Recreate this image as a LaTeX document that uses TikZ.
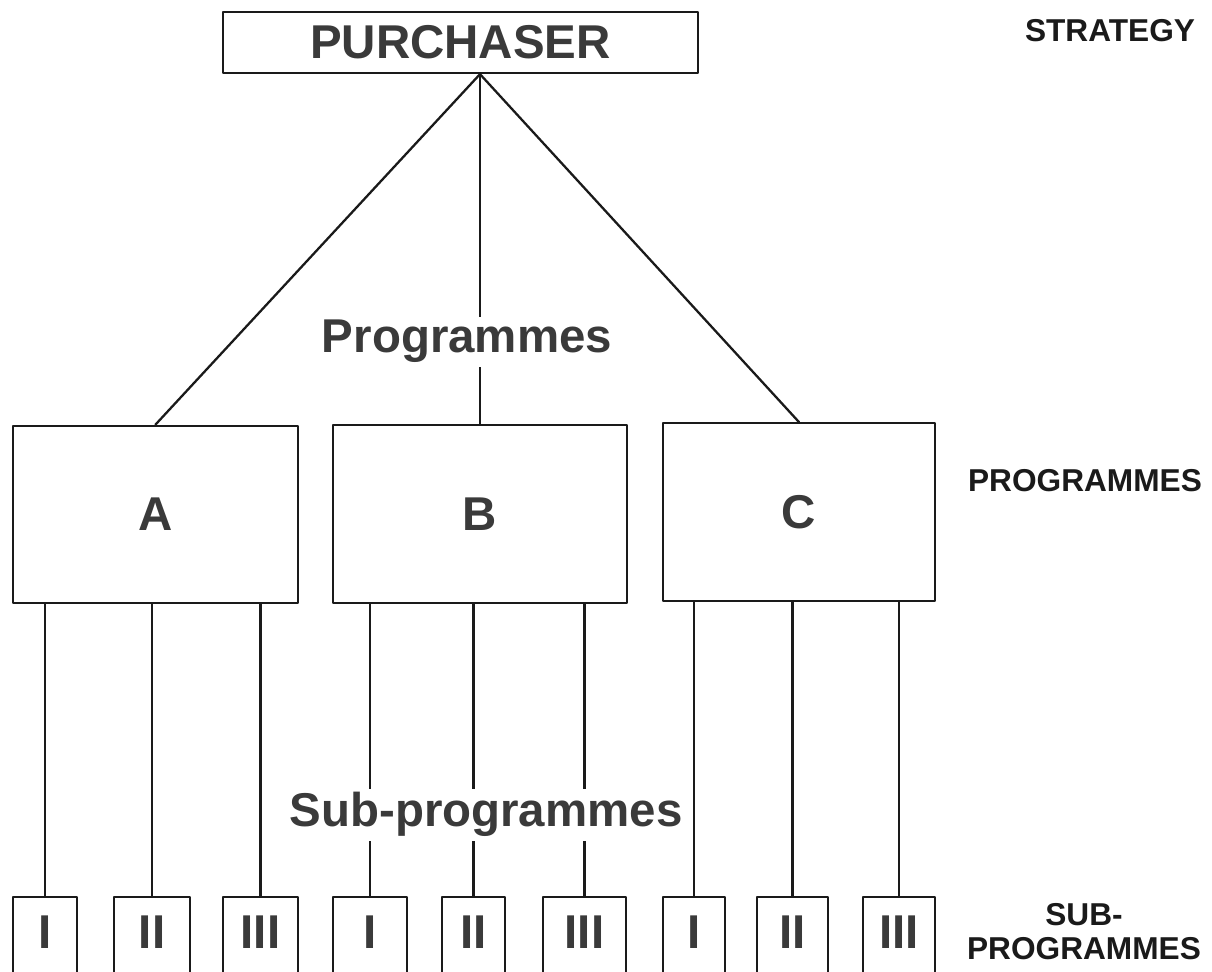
\documentclass[tikz,border=0pt]{standalone}
\usepackage{fontspec}
\setmainfont{Liberation Sans}
\usetikzlibrary{calc}
\definecolor{ink}{HTML}{1A1A1A}
\definecolor{type}{HTML}{3A3A3A}
\tikzset{
  base/.style={draw=ink, line width=1.3pt, line cap=round, line join=round},
  big/.style={text=type, font=\fontsize{27}{32}\selectfont\bfseries},
  box/.style={base, big, rectangle, inner sep=0pt},
  subbox/.style={base, big, rectangle, anchor=north, inner xsep=0pt, inner ysep=0.34cm,
    text height=0.68cm, text depth=1.6cm},
  lab/.style={big, fill=white, inner sep=2pt, anchor=base},
  side/.style={text=ink, font=\fontsize{18}{19.4}\selectfont\bfseries, align=center},
}

\begin{document}
\begin{tikzpicture}
  \useasboundingbox (0,0) rectangle (24.24,-19.44);
  \node[box,minimum width=9.5cm,minimum height=1.22cm] (buyer) at (9.21,-0.85) {PURCHASER};
  \node[box,minimum width=5.7cm,minimum height=3.55cm] (A) at (3.11,-10.29) {A};
  \node[box,minimum width=5.88cm,minimum height=3.55cm] (B) at (9.6,-10.28) {B};
  \node[box,minimum width=5.44cm,minimum height=3.55cm] (C) at (15.98,-10.24) {C};
  \coordinate (apex) at (buyer.south -| B.north);
  \draw[base] (apex) -- (A.north);
  \draw[base] (apex) -- (B.north);
  \draw[base] (apex) -- (C.north);
  \foreach \n/\x/\w/\r/\p in {A1/0.90/1.28/I/A, A2/3.04/1.52/II/A, A3/5.21/1.50/III/A,
      B1/7.40/1.48/I/B, B2/9.47/1.26/II/B, B3/11.69/1.66/III/B,
      C1/13.88/1.24/I/C, C2/15.85/1.42/II/C, C3/17.98/1.44/III/C} {
    \node[subbox,minimum width=\w cm] (\n) at (\x,-17.92) {\r};
    \draw[base] (\n.north) -- (\n.north |- \p.south);
  }
  \node[lab] (prg) at (9.34,-7.06) {Programmes};
  \node[lab] (sub) at (9.72,-16.54) {Sub-programmes};
  \node[side] (lvl1) at (22.2,-0.62) {STRATEGY};
  \node[side] (lvl2) at (21.7,-9.62) {PROGRAMMES};
  \node[side] (lvl3) at (21.68,-18.64) {SUB-\\PROGRAMMES};
\end{tikzpicture}
\end{document}
